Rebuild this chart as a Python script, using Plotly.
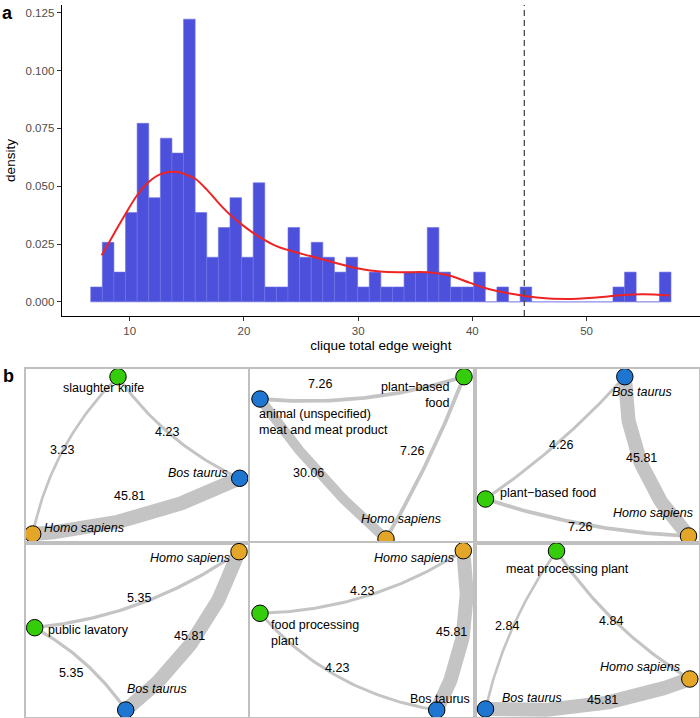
import numpy as np
import plotly.graph_objects as go

# ------------------------------------------------------------------
# Panel a : histogram of clique total edge weight (50 bins)
# ------------------------------------------------------------------
bin_left_edge = 6.59
bin_width = 1.016
bin_counts = [1, 4, 2, 6, 12, 7, 11, 10, 19, 6,
              3, 5, 7, 3, 8, 1, 1, 5, 3, 4,
              3, 2, 3, 1, 2, 1, 1, 2, 2, 5,
              2, 1, 1, 2, 0, 1, 0, 1, 0, 0,
              0, 0, 0, 0, 0, 1, 2, 0, 0, 2]
kde_x = [7.55, 8.64, 9.66, 10.67, 11.69, 12.71, 14.02, 15.04, 15.77, 16.79,
         17.81, 18.83, 19.8, 20.9, 21.9, 22.9, 23.8, 25.8, 27.9, 29.9,
         31.9, 33.9, 36.0, 38.06, 39.8, 41.26, 43.3, 45.63, 48.25, 50.87,
         53.2, 54.95, 57.3]
kde_y = [0.0202, 0.0296, 0.0382, 0.0462, 0.0519, 0.0552, 0.0562, 0.0548, 0.0531, 0.0483,
         0.0426, 0.0375, 0.0335, 0.0295, 0.0265, 0.0240, 0.0225, 0.0198, 0.0170, 0.0145,
         0.0131, 0.0128, 0.0128, 0.0113, 0.0082, 0.0058, 0.0036, 0.0019, 0.0012, 0.0019,
         0.0030, 0.0033, 0.0028]
threshold = 44.55
y_ticks = [0.0, 0.025, 0.05, 0.075, 0.1, 0.125]
x_ticks = [10, 20, 30, 40, 50]

# ------------------------------------------------------------------
# Panel b : six cliques (layout coordinates per panel)
# ------------------------------------------------------------------
p1_names = ["slaughter knife", "Bos taurus", "Homo sapiens"]
p1_kind = ["object", "animal", "human"]
p1_x = [92.3, 214.0, 7.0]
p1_y = [166.3, 64.7, 9.0]
p1_from = [0, 0, 1]
p1_to = [2, 1, 2]
p1_w = [3.23, 4.23, 45.81]
p1_elab_x = [36.0, 141.7, 104.0]
p1_elab_y = [93.0, 111.0, 47.0]
p1_nlab_x = [77.7, 204.0, 16.0]
p1_nlab_y = [155.3, 70.3, 15.0]

p2_names = ["animal (unspecified)<br>meat and meat product", "plant\u2212based<br>food", "Homo sapiens"]
p2_kind = ["animal", "object", "human"]
p2_x = [10.0, 214.0, 136.0]
p2_y = [144.0, 166.3, 4.0]
p2_from = [1, 0, 1]
p2_to = [0, 2, 2]
p2_w = [7.26, 30.06, 7.26]
p2_elab_x = [70.0, 58.3, 161.7]
p2_elab_y = [159.0, 70.3, 92.3]
p2_nlab_x = [7.3, 201.7, 150.5]
p2_nlab_y = [121.5, 148.0, 24.0]

p3_names = ["Bos taurus", "plant\u2212based food", "Homo sapiens"]
p3_kind = ["animal", "object", "human"]
p3_x = [150.3, 11.0, 214.0]
p3_y = [166.3, 44.0, 7.0]
p3_from = [0, 0, 1]
p3_to = [1, 2, 2]
p3_w = [4.26, 45.81, 7.26]
p3_elab_x = [86.0, 167.0, 105.0]
p3_elab_y = [98.0, 85.3, 16.0]
p3_nlab_x = [135.0, 23.3, 220.0]
p3_nlab_y = [151.3, 49.7, 30.3]

p4_names = ["Homo sapiens", "public lavatory", "Bos taurus"]
p4_kind = ["human", "object", "animal"]
p4_x = [213.3, 9.0, 100.0]
p4_y = [165.3, 89.3, 7.0]
p4_from = [1, 1, 0]
p4_to = [0, 2, 2]
p4_w = [5.35, 5.35, 45.81]
p4_elab_x = [113.3, 45.7, 163.3]
p4_elab_y = [118.7, 44.3, 81.0]
p4_nlab_x = [206.3, 20.7, 99.0]
p4_nlab_y = [159.3, 87.0, 27.7]

p5_names = ["Homo sapiens", "food processing<br>plant", "Bos taurus"]
p5_kind = ["human", "object", "animal"]
p5_x = [213.3, 10.0, 186.7]
p5_y = [166.3, 103.7, 7.0]
p5_from = [1, 1, 0]
p5_to = [0, 2, 2]
p5_w = [4.23, 4.23, 45.81]
p5_elab_x = [111.7, 86.7, 201.7]
p5_elab_y = [126.0, 48.7, 85.3]
p5_nlab_x = [205.7, 19.0, 189.5]
p5_nlab_y = [159.3, 84.5, 17.7]

p6_names = ["meat processing plant", "Homo sapiens", "Bos taurus"]
p6_kind = ["object", "human", "animal"]
p6_x = [82.0, 215.3, 11.0]
p6_y = [166.0, 38.0, 8.0]
p6_from = [0, 0, 2]
p6_to = [2, 1, 1]
p6_w = [2.84, 4.84, 45.81]
p6_elab_x = [32.0, 136.0, 127.7]
p6_elab_y = [91.0, 96.3, 17.0]
p6_nlab_x = [92.7, 207.7, 25.3]
p6_nlab_y = [148.0, 50.3, 18.7]

# ---------------- styles (kept apart from the data) ----------------
kind_color = {"object": "#35CC0C", "animal": "#1F76D0", "human": "#E3A628"}
p_bend = [[-0.075, -0.068, 0.05], [0.05, -0.03, 0.02], [0.03, -0.1, -0.035],
          [-0.065, 0.06, 0.074], [-0.07, -0.09, 0.084], [-0.05, -0.055, -0.056]]
p_anchor = [["center", "right", "left"], ["left", "right", "center"], ["left", "left", "right"],
            ["right", "left", "left"], ["right", "left", "center"], ["center", "right", "left"]]
p_italic = [[False, True, True], [False, False, True], [True, False, True],
            [True, False, True], [True, False, False], [False, True, True]]

panels = [
    (p1_names, p1_kind, p1_x, p1_y, p1_from, p1_to, p1_w, p1_elab_x, p1_elab_y, p1_nlab_x, p1_nlab_y),
    (p2_names, p2_kind, p2_x, p2_y, p2_from, p2_to, p2_w, p2_elab_x, p2_elab_y, p2_nlab_x, p2_nlab_y),
    (p3_names, p3_kind, p3_x, p3_y, p3_from, p3_to, p3_w, p3_elab_x, p3_elab_y, p3_nlab_x, p3_nlab_y),
    (p4_names, p4_kind, p4_x, p4_y, p4_from, p4_to, p4_w, p4_elab_x, p4_elab_y, p4_nlab_x, p4_nlab_y),
    (p5_names, p5_kind, p5_x, p5_y, p5_from, p5_to, p5_w, p5_elab_x, p5_elab_y, p5_nlab_x, p5_nlab_y),
    (p6_names, p6_kind, p6_x, p6_y, p6_from, p6_to, p6_w, p6_elab_x, p6_elab_y, p6_nlab_x, p6_nlab_y),
]

FONT = "Liberation Sans, Arial, Helvetica, sans-serif"
W, H = 700, 718
PW, PH = 224.5, 174.0
col_left = [25.7, 250.0, 474.5]
row_top = [369.0, 543.0]
EDGE_GRAY = "#C4C4C4"
BORDER_GRAY = "#C0C0C0"

fig = go.Figure()

# ---------------- panel a ----------------
n_total = sum(bin_counts)
centers = [bin_left_edge + bin_width * (i + 0.5) for i in range(len(bin_counts))]
density = [c / (n_total * bin_width) for c in bin_counts]
fig.add_trace(go.Bar(x=centers, y=density, width=bin_width,
                     marker=dict(color="#4C50DB", line=dict(color="#6E72E6", width=0.6)),
                     xaxis="x", yaxis="y", hoverinfo="skip"))
fig.add_trace(go.Scatter(x=kde_x, y=kde_y, mode="lines", line=dict(color="#EE2424", width=2, shape="spline"),
                         xaxis="x", yaxis="y", hoverinfo="skip"))
fig.add_shape(type="line", xref="x", yref="y domain", x0=threshold, x1=threshold, y0=0, y1=1,
              line=dict(color="#4D4D4D", width=1.3, dash="6px,4px"))

xmin = bin_left_edge
xmax = bin_left_edge + bin_width * len(bin_counts)
xpad = 0.05 * (xmax - xmin)
ymax = max(density)
ypad = 0.05 * ymax

layout = dict(
    width=W, height=H, margin=dict(l=0, r=0, t=0, b=0),
    paper_bgcolor="white", plot_bgcolor="white", showlegend=False,
    font=dict(family=FONT, color="black"),
    bargap=0,
    xaxis=dict(domain=[61.7 / W, 1.0], range=[xmin - xpad, xmax + xpad], anchor="y",
               tickvals=x_ticks, ticks="outside", ticklen=4, tickwidth=1, tickcolor="#333333",
               tickfont=dict(size=11.5, color="#4D4D4D"), showline=True, linecolor="black", linewidth=1.1,
               showgrid=False, zeroline=False,
               title=dict(text="clique total edge weight", font=dict(size=13.5), standoff=4)),
    yaxis=dict(domain=[1 - 316 / H, 1 - 5 / H], range=[-ypad, ymax + ypad], anchor="x",
               tickvals=y_ticks, tickformat=".3f", ticks="outside", ticklen=4, tickwidth=1, tickcolor="#333333",
               tickfont=dict(size=11.5, color="#4D4D4D"), showline=True, linecolor="black", linewidth=1.1,
               showgrid=False, zeroline=False,
               title=dict(text="density", font=dict(size=13.5), standoff=6)),
)

annotations = [
    dict(text="<b>a</b>", x=7.5 / W, y=1 - 13 / H, xref="paper", yref="paper", showarrow=False,
         font=dict(size=18), xanchor="center", yanchor="middle"),
    dict(text="<b>b</b>", x=8.5 / W, y=1 - 376 / H, xref="paper", yref="paper", showarrow=False,
         font=dict(size=18), xanchor="center", yanchor="middle"),
]


def arc(p0, p1, s, n=60):
    p0 = np.asarray(p0, float)
    p1 = np.asarray(p1, float)
    d = p1 - p0
    L = np.hypot(d[0], d[1])
    nrm = np.array([-d[1], d[0]]) / L
    c = (p0 + p1) / 2 + 2 * s * L * nrm
    t = np.linspace(0, 1, n)[:, None]
    pts = (1 - t) ** 2 * p0 + 2 * (1 - t) * t * c + t ** 2 * p1
    return pts[:, 0], pts[:, 1]


w_all = [w for p in panels for w in p[6]]
w_lo, w_hi = min(w_all), max(w_all)


def edge_px(w):
    return 2.6 + (w - w_lo) / (w_hi - w_lo) * 11.5


for k, (names, kinds, nx, ny, efrom, eto, ew, elx, ely, nlx, nly) in enumerate(panels):
    i = k + 2
    xa, ya = f"x{i}", f"y{i}"
    x0 = col_left[k % 3]
    y0 = row_top[k // 3]
    layout[f"xaxis{i}"] = dict(domain=[x0 / W, (x0 + PW) / W], range=[0, PW], anchor=ya,
                               showline=True, mirror=True, linecolor=BORDER_GRAY, linewidth=2,
                               showgrid=False, zeroline=False, showticklabels=False, ticks="")
    layout[f"yaxis{i}"] = dict(domain=[1 - (y0 + PH) / H, 1 - y0 / H], range=[0, PH], anchor=xa,
                               showline=True, mirror=True, linecolor=BORDER_GRAY, linewidth=2,
                               showgrid=False, zeroline=False, showticklabels=False, ticks="")
    for e in range(len(ew)):
        a, b = efrom[e], eto[e]
        ex, ey = arc((nx[a], ny[a]), (nx[b], ny[b]), p_bend[k][e])
        fig.add_trace(go.Scatter(x=ex, y=ey, mode="lines", xaxis=xa, yaxis=ya,
                                 line=dict(color=EDGE_GRAY, width=edge_px(ew[e])),
                                 hoverinfo="skip", cliponaxis=False))
    fig.add_trace(go.Scatter(x=nx, y=ny, mode="markers", xaxis=xa, yaxis=ya, cliponaxis=False,
                             marker=dict(size=16.5, color=[kind_color[c] for c in kinds],
                                         line=dict(color="black", width=1)),
                             hoverinfo="skip"))
    for e in range(len(ew)):
        annotations.append(dict(text=f"{ew[e]:.2f}", x=elx[e], y=ely[e], xref=xa, yref=ya,
                                showarrow=False, font=dict(size=12.5, color="black"),
                                xanchor="center", yanchor="middle"))
    for j in range(len(names)):
        txt = f"<i>{names[j]}</i>" if p_italic[k][j] else names[j]
        annotations.append(dict(text=txt, x=nlx[j], y=nly[j], xref=xa, yref=ya, showarrow=False,
                                font=dict(size=12.5, color="black"), xanchor=p_anchor[k][j],
                                align=p_anchor[k][j], yanchor="middle"))

layout["annotations"] = annotations
fig.update_layout(**layout)
fig.write_html("out.html", config={"displayModeBar": False, "staticPlot": True},
               post_script="document.body.style.margin='0px';document.body.style.overflow='hidden';")
